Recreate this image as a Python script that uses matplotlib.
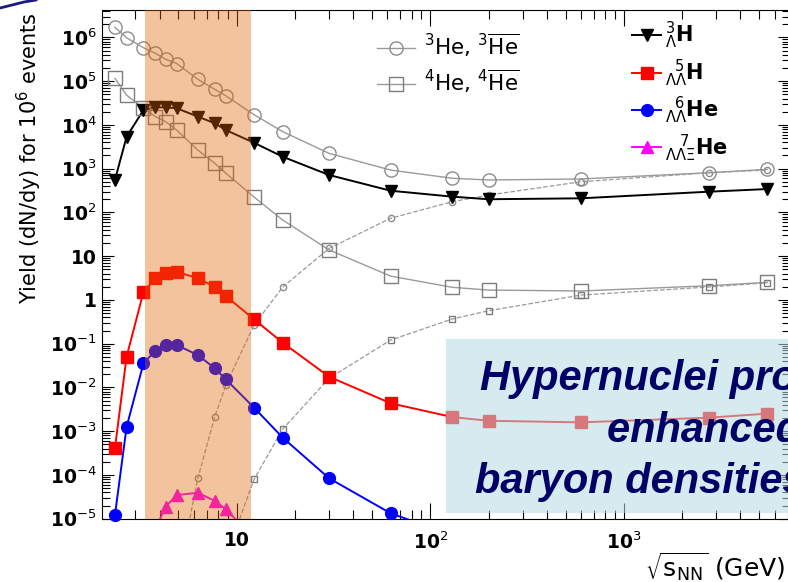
import numpy as np
import matplotlib
matplotlib.use('Agg')
import matplotlib.pyplot as plt
from matplotlib.lines import Line2D
from matplotlib.patches import Rectangle
from matplotlib.ticker import LogLocator, NullFormatter

plt.rcParams['font.family'] = ['DejaVu Sans']
plt.rcParams['mathtext.fontset'] = 'dejavusans'

nan = np.nan

# collision energies sqrt(s_NN) in GeV
energy = [2.35, 2.7, 3.3, 3.8, 4.3, 4.9, 6.3, 7.7, 8.8, 12.3, 17.3, 30, 62.4, 130, 200, 600, 2760, 5500]

# yields dN/dy for 10^6 events
he3 = [1.70e6, 9.8e5, 5.8e5, 4.33e5, 3.16e5, 2.53e5, 1.10e5, 6.5e4, 4.6e4, 1.71e4, 7.0e3, 2.24e3,
       927, 603, 551, 581, 808, 966]
he3_bar = [nan, nan, nan, nan, nan, 3.2e-7, 8.4e-5, 2.14e-3, 1.14e-2, 0.267, 1.98, 15,
           73.6, 176, 249, 502, 808, 927]
he4 = [1.16e5, 4.8e4, 2.4e4, 1.55e4, 1.18e4, 7.6e3, 2.66e3, 1.33e3, 782, 224, 66.7, 13.9,
       3.5, 1.94, 1.68, 1.60, 2.11, 2.52]
he4_bar = [nan, nan, nan, nan, nan, nan, nan, nan, 1.37e-6, 8.0e-5, 1.12e-3, 1.62e-2,
           0.121, 0.367, 0.566, 1.29, 1.98, 2.47]
h3_lam = [551, 5.37e3, 2.19e4, 2.52e4, 2.52e4, 2.4e4, 1.55e4, 1.09e4, 7.6e3, 3.9e3, 1.87e3, 716,
          313, 229, 200, 210, 298, 342]
h5_ll = [4.06e-4, 5.07e-2, 1.52, 3.14, 4.03, 4.38, 3.14, 1.98, 1.22, 0.359, 0.105, 1.76e-2,
         4.35e-3, 2.1e-3, 1.73e-3, 1.59e-3, 2.04e-3, 2.52e-3]
he6_ll = [1.2e-5, 1.26e-3, 3.56e-2, 6.9e-2, 9.3e-2, 9.3e-2, 5.5e-2, 2.74e-2, 1.52e-2, 3.44e-3, 7.1e-4, 8.4e-5,
          1.33e-5, 4.2e-6, nan, nan, nan, nan]
he7_llxi = [nan, nan, nan, 5.8e-6, 1.88e-5, 3.46e-5, 3.92e-5, 2.56e-5, 1.64e-5, 3.45e-6, nan, nan,
            nan, nan, nan, nan, nan, nan]

labels_he = [r'$^{3}$He, $^{3}\overline{\mathrm{He}}$', r'$^{4}$He, $^{4}\overline{\mathrm{He}}$']
labels_hyp = [r'$^{3}_{\Lambda}$H', r'$^{\ \ 5}_{\Lambda\Lambda}$H',
              r'$^{\ \ 6}_{\Lambda\Lambda}$He', r'$^{\ \ \ 7}_{\Lambda\Lambda\Xi}$He']

yticks = [1e-5, 1e-4, 1e-3, 1e-2, 1e-1, 1, 10, 1e2, 1e3, 1e4, 1e5, 1e6]
ytick_labels = ['10$^{-5}$', '10$^{-4}$', '10$^{-3}$', '10$^{-2}$', '10$^{-1}$', '1', '10',
                '10$^{2}$', '10$^{3}$', '10$^{4}$', '10$^{5}$', '10$^{6}$']
xticks = [10, 100, 1000]
xtick_labels = ['10', '10$^{2}$', '10$^{3}$']

box_lines = ['Hypernuclei production', 'enhanced at high', 'baryon densities']

W, H = 788, 582
fig = plt.figure(figsize=(W / 100, H / 100), dpi=100)
ax = fig.add_axes([102 / W, 63.3 / H, 688 / W, 509.2 / H])
ax.set_xscale('log')
ax.set_yscale('log')
ax.set_xlim(2.015, 7210)
ax.set_ylim(1e-5, 4.34e6)
ymin = 1e-5


def draw(y, color, marker, ms, ls='-', lw=1.2, mfc=None, mec=None):
    y = np.array(y, float)
    x = np.array(energy)
    ax.plot(x, y, ls=ls, color=color, lw=lw, zorder=3)
    keep = y >= ymin
    ax.plot(x[keep], y[keep], ls='none', marker=marker, ms=ms,
            mfc=mfc if mfc else color, mec=mec if mec else color,
            mew=1.0, clip_on=False, zorder=4)


gray = '#9a9a9a'
draw(he3, gray, 'o', 9.5, lw=1.0, mfc='none', mec='#8c8c8c')
draw(he4, gray, 's', 9.5, lw=1.0, mfc='none', mec='#7c7c7c')
draw(he3_bar, gray, 'o', 4.5, ls='--', lw=0.9, mfc='none', mec='#8c8c8c')
draw(he4_bar, gray, 's', 4.5, ls='--', lw=0.9, mfc='none', mec='#7c7c7c')
draw(h3_lam, 'black', 'v', 8.5, lw=1.4)
draw(h5_ll, '#ff0000', 's', 8, lw=1.4)
draw(he6_ll, '#0000ff', 'o', 8.5, lw=1.4)
draw(he7_llxi, '#ff00ff', '^', 8.5, lw=1.4)

# shaded high baryon density energy range
ax.axvspan(3.35, 11.9, color=(226 / 255, 98 / 255, 0), alpha=0.38, lw=0, zorder=10)

ax.set_xticks(xticks, xtick_labels, fontsize=13.5, fontweight='bold')
ax.set_yticks(yticks, ytick_labels, fontsize=13.5, fontweight='bold')
ax.xaxis.set_minor_locator(LogLocator(base=10, subs=np.arange(2, 10), numticks=100))
ax.yaxis.set_minor_locator(LogLocator(base=10, subs=np.arange(2, 10), numticks=100))
ax.xaxis.set_minor_formatter(NullFormatter())
ax.yaxis.set_minor_formatter(NullFormatter())
ax.tick_params(axis='x', which='major', length=11.5, width=0.8, direction='in', top=True, pad=9)
ax.tick_params(axis='x', which='minor', length=6.5, width=0.8, direction='in', top=True)
ax.tick_params(axis='y', which='major', length=8.5, width=0.8, direction='in', right=True, pad=4)
ax.tick_params(axis='y', which='minor', length=5.5, width=0.8, direction='in', right=True)
for s in ax.spines.values():
    s.set_linewidth(0.8)

# legends
h_he = [Line2D([], [], color=gray, lw=1.0, marker='o', ms=9.5, mfc='none', mec='#8c8c8c'),
        Line2D([], [], color=gray, lw=1.0, marker='s', ms=9.5, mfc='none', mec='#7c7c7c')]
leg1 = ax.legend(h_he, labels_he, loc='upper left', bbox_to_anchor=(377 / W, 1 - 32 / H),
                 bbox_transform=fig.transFigure, frameon=False, fontsize=15.5,
                 handlelength=1.75, handletextpad=0.45, labelspacing=0.4,
                 borderpad=0, borderaxespad=0)
ax.add_artist(leg1)

h_hyp = [Line2D([], [], color='black', lw=1.4, marker='v', ms=8.5),
         Line2D([], [], color='#ff0000', lw=1.4, marker='s', ms=8),
         Line2D([], [], color='#0000ff', lw=1.4, marker='o', ms=8.5),
         Line2D([], [], color='#ff00ff', lw=1.4, marker='^', ms=8.5)]
leg2 = ax.legend(h_hyp, labels_hyp, loc='upper left', bbox_to_anchor=(632 / W, 1 - 20 / H),
                 bbox_transform=fig.transFigure, frameon=False,
                 prop={'size': 15, 'weight': 'bold'},
                 handlelength=1.4, handletextpad=0.2, labelspacing=0.3,
                 borderpad=0, borderaxespad=0)

# axis titles
fig.text(785 / W, 1 - 567 / H, r'$\sqrt{\mathrm{s}_{\mathrm{NN}}}$ (GeV)', ha='right', va='center',
         fontsize=18)
fig.text(29 / W, 1 - 158 / H, 'Yield (dN/dy) for 10$^{6}$ events', rotation=90,
         ha='center', va='center', fontsize=15)

# annotation box
fig.add_artist(Rectangle((446 / W, 69 / H), 360 / W, 174 / H, transform=fig.transFigure,
                         fc=(180 / 255, 220 / 255, 227 / 255), alpha=0.55, lw=0, zorder=5))
for txt, x0, yb in zip(box_lines, [480, 607, 475], [390, 442, 493]):
    fig.text(x0 / W, 1 - yb / H, txt, fontsize=30, fontweight='bold', style='italic',
             family='Liberation Sans', color='#000066', ha='left', va='baseline', zorder=6)

# slide decoration in the corner
fig.add_artist(Line2D([0, 12 / W, 24 / W, 36 / W], [1 - 8 / H, 1 - 5 / H, 1 - 2 / H, 1],
                      transform=fig.transFigure, color='#1a1a80', lw=2))

fig.savefig('out.png', dpi=100)
